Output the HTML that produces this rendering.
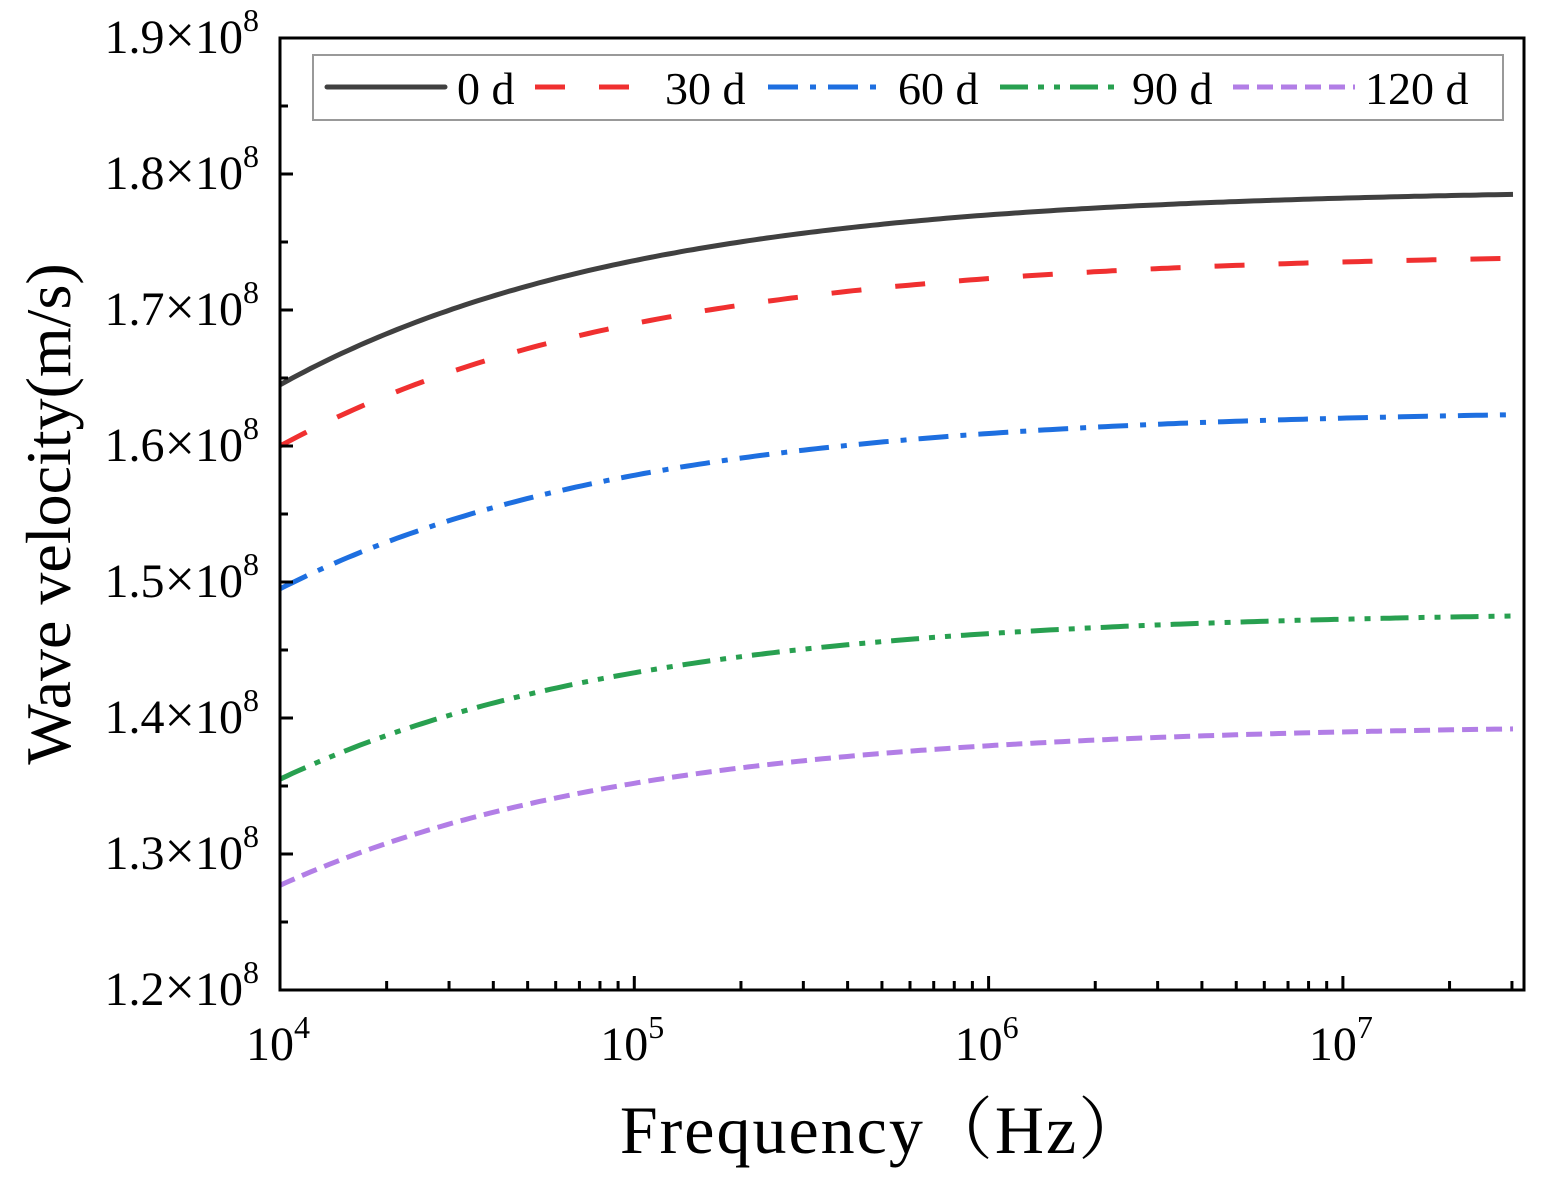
<!DOCTYPE html>
<html><head><meta charset="utf-8"><style>
html,body{margin:0;padding:0;background:#fff;}
svg{display:block;font-family:"Liberation Serif",serif;}
</style></head><body>
<svg id="s" width="1544" height="1181" viewBox="0 0 1544 1181" xmlns="http://www.w3.org/2000/svg">
<rect x="0" y="0" width="1544" height="1181" fill="#fff"/>
<g id="curves" fill="none" stroke-width="5"></g>
<rect x="280" y="38" width="1244" height="952" fill="none" stroke="#000" stroke-width="3"/>
<g id="ticks" stroke="#000" stroke-width="3"></g>
<g id="labels" font-size="48" fill="#000"></g>
<rect x="313" y="55" width="1190" height="65" fill="#fff" stroke="#999" stroke-width="2"/>
<g stroke-width="5" fill="none">
<line x1="327" y1="87" x2="445" y2="87" stroke="#404040" stroke-linecap="round"/>
<line x1="535" y1="87" x2="655" y2="87" stroke="#f03030" stroke-dasharray="30 34"/>
<line x1="768" y1="87" x2="888" y2="87" stroke="#1e6fe0" stroke-dasharray="30 12 6 12"/>
<line x1="1000" y1="87" x2="1122" y2="87" stroke="#28a050" stroke-dasharray="28 10 6 10 6 10"/>
<line x1="1233" y1="87" x2="1355" y2="87" stroke="#b27ee6" stroke-dasharray="16 8"/>
</g>
<g font-size="46" fill="#000">
<text x="457" y="104">0 d</text>
<text x="665" y="104">30 d</text>
<text x="898" y="104">60 d</text>
<text x="1132" y="104">90 d</text>
<text x="1365" y="104">120 d</text>
</g>
<text x="884" y="1153" font-size="68" text-anchor="middle" letter-spacing="2" font-family="'Liberation Serif','Noto Serif CJK SC',serif">Frequency（Hz）</text>
<text transform="translate(70,514) rotate(-90)" font-size="64" text-anchor="middle">Wave velocity(m/s)</text>
</svg>
<script>
const NS="http://www.w3.org/2000/svg";
const X=u=>280+u*354.3, Y=v=>990-(v-1.2)*1360;
function el(p,t,a,txt){const e=document.createElementNS(NS,t);for(const k in a)e.setAttribute(k,a[k]);if(txt!==undefined)e.textContent=txt;p.appendChild(e);return e;}
function shape(u){return (1-Math.exp(-u))/(1-Math.exp(-3.48));}
const series=[[1.645,1.785,"#404040",""],[1.600,1.738,"#f03030","30 34"],[1.495,1.623,"#1e6fe0","30 12 6 12"],[1.355,1.475,"#28a050","28 10 6 10 6 10"],[1.277,1.392,"#b27ee6","16 8"]];
const cg=document.getElementById("curves");
const uEnd=(1513-280)/354.3;
series.forEach(s=>{let d="";for(let k=0;k<=200;k++){const u=uEnd*k/200;const v=s[0]+(s[1]-s[0])*shape(u);d+=(k?"L":"M")+X(u).toFixed(1)+" "+Y(v).toFixed(1);}
 const a={d:d,stroke:s[2]};if(s[3])a["stroke-dasharray"]=s[3];el(cg,"path",a);});
const tg=document.getElementById("ticks"),lg=document.getElementById("labels");
for(let dec=0;dec<4;dec++){for(let m=1;m<10;m++){const u=dec+Math.log10(m);const x=X(u);if(x>1524)break;const L=m==1?14:9;el(tg,"line",{x1:x,y1:990,x2:x,y2:990-L});}}
["4","5","6","7"].forEach((e,i)=>{const t=el(lg,"text",{x:X(i)-34,y:1060});el(t,"tspan",{},"10");el(t,"tspan",{dy:-22,"font-size":32},e);});
for(let k=0;k<=14;k++){const v=1.2+k*0.05;const y=Y(v);el(tg,"line",{x1:280,y1:y,x2:280+(k%2?8:13),y2:y});
 if(k%2==0){const t=el(lg,"text",{x:259,y:y+15,"text-anchor":"end"});el(t,"tspan",{},v.toFixed(1));el(t,"tspan",{"font-size":54},"×");el(t,"tspan",{},"10");el(t,"tspan",{dy:-22,"font-size":32},"8");}}
</script>
</body></html>
